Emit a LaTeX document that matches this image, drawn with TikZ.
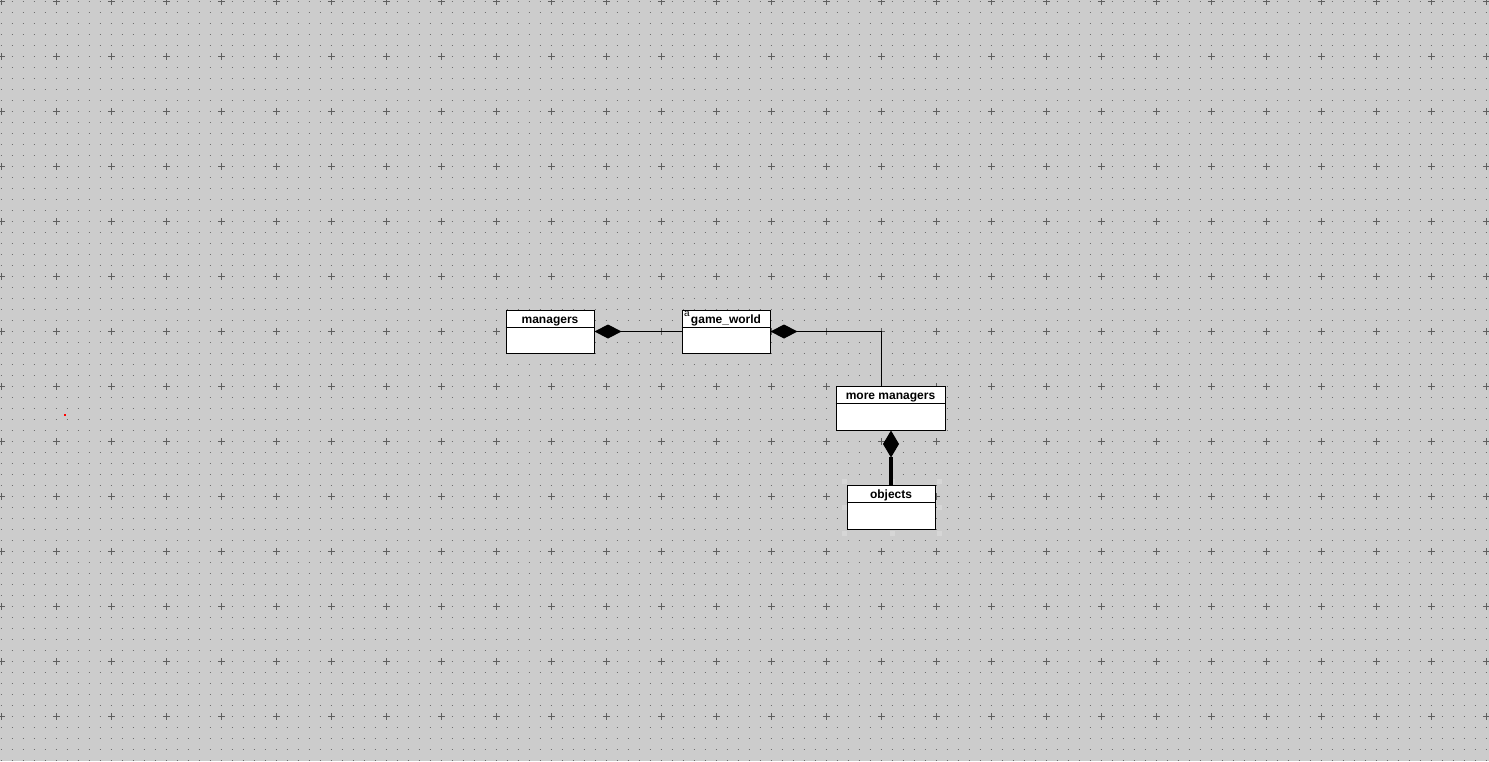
\documentclass[tikz,border=0pt]{standalone}
\usepackage{fontspec}
\setmainfont{Liberation Sans}
\usetikzlibrary{positioning,arrows.meta}
\definecolor{canvas}{RGB}{204,204,204}
\definecolor{griddot}{RGB}{110,110,110}
\definecolor{gridcross}{RGB}{95,95,95}
\definecolor{handle}{RGB}{214,214,214}

\begin{document}
\begin{tikzpicture}[x=1pt, y=-1pt, line width=1pt,
  class node/.style={rectangle,draw,fill=white,minimum width=88pt,minimum height=43pt,inner sep=0pt},
  title node/.style={inner sep=0pt,text height=9pt,text depth=3.5pt,font=\bfseries\fontsize{12}{14}\selectfont},
  grid dot/.style={griddot,line width=1pt,dash pattern=on 1pt off 10pt},
  grid cross/.style={gridcross,line width=1pt},
  link/.style={line width=1pt,{Diamond[length=27pt,width=14pt]}-}]

    % canvas
    \useasboundingbox (0,0) rectangle (1489,761);
    \fill[canvas] (0,0) rectangle (1489,761);
    \foreach \y in {1,12,...,760}
        \draw[grid dot] (0.5,\y) -- (1489,\y);
    \foreach \x in {1,56,...,1486}
        \foreach \y in {1,56,...,716}
            \draw[grid cross] (\x-3,\y) -- (\x+4,\y) (\x,\y-3) -- (\x,\y+4);
    \fill[red] (64,414) rectangle (66,416);

    % classes
    \node[class node] at (550, 331.5) (managers) {};
    \node[class node] at (726, 331.5) (world) {};
    \node[class node, minimum width=109pt, minimum height=44pt] at (890.5, 408) (more) {};
    \node[class node, minimum height=44pt] at (891, 507.5) (objects) {};

    \node[title node, below=4.5pt of managers.north] (managers title) {managers};
    \node[title node, below=4.5pt of world.north] (world title) {game\_world};
    \node[title node, below=4pt of more.north] (more title) {more managers};
    \node[title node, below=3.5pt of objects.north] (objects title) {objects};
    \node[inner sep=0pt, anchor=north west, font=\fontsize{10}{10}\selectfont] at ([shift={(2pt,-1pt)}]world.north west) (world mark) {a};

    \draw (managers.west |- managers title.south) -- (managers.east |- managers title.south);
    \draw (world.west |- world title.south) -- (world.east |- world title.south);
    \draw (more.west |- more title.south) -- (more.east |- more title.south);
    \draw (objects.west |- objects title.south) -- (objects.east |- objects title.south);

    % selection handles
    \node[minimum width=94pt, minimum height=51pt, inner sep=0pt] at (892, 507.5) (objects frame) {};
    \foreach \a in {north west, north, north east, west, east, south west, south, south east}
        \fill[handle] (objects frame.\a) ++(-2.5pt,-2.5pt) rectangle ++(5pt,5pt);

    % compositions
    \path[link] (managers) edge (world);
    \draw[link] (world.east) -| ([xshift=-9.5pt]more.north);
    \draw[link, {Diamond[length=27pt,width=16pt]}-] (more.south -| objects.north) -- (objects.north);
    \draw[line width=4pt] ([yshift=-26pt]more.south -| objects.north) -- (objects.north);

\end{tikzpicture}
\end{document}
